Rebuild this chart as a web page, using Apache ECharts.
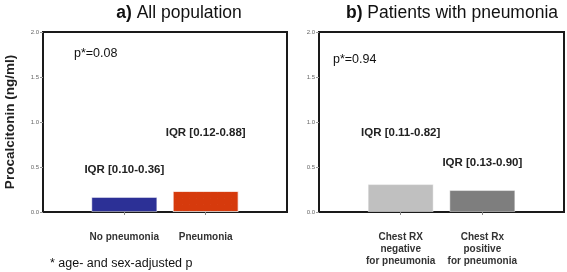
<!DOCTYPE html>
<html>
<head>
<meta charset="utf-8">
<script src="https://cdn.jsdelivr.net/npm/echarts@6/dist/echarts.min.js"></script>
<style>
  html, body { margin: 0; padding: 0; background: #fff; }
  #chart { width: 567px; height: 272px; }
</style>
</head>
<body>
<div id="chart"></div>
<script>
// panel a
const catsA = ['', 'No pneumonia', 'Pneumonia', '']
const valsA = [null, 0.167, 0.233, null]
const iqrA = ['', 'IQR [0.10-0.36]', 'IQR [0.12-0.88]', '']
// panel b
const catsB = ['', 'Chest RX\nnegative\nfor pneumonia', 'Chest Rx\npositive\nfor pneumonia', '']
const valsB = [null, 0.31, 0.244, null]
const iqrB = ['', 'IQR [0.11-0.82]', 'IQR [0.13-0.90]', '']
const yTicks = [0, 0.5, 1.0, 1.5, 2.0]

const colorsA = ['#2c3096', '#d63a0c']
const colorsB = ['#c0c0c0', '#7e7e7e']
const labelGapA = [21, 52]
const labelGapB = [45, 21]

const chart = echarts.init(document.getElementById('chart'))
const font = 'Liberation Sans, Arial, sans-serif'

function xAxis (idx, cats) {
  return {
    type: 'category',
    gridIndex: idx,
    data: cats,
    boundaryGap: false,
    axisLine: { show: false },
    axisTick: {
      show: true,
      length: 3,
      lineStyle: { color: '#888' },
      interval: (i) => i === 1 || i === 2
    },
    axisLabel: {
      interval: 0,
      margin: 19,
      fontFamily: font,
      fontSize: 10,
      fontWeight: 'bold',
      color: '#333',
      lineHeight: 12,
      verticalAlign: 'top'
    },
    splitLine: { show: false }
  }
}

function yAxis (idx, name) {
  return {
    type: 'value',
    gridIndex: idx,
    min: yTicks[0],
    max: yTicks[yTicks.length - 1],
    interval: 0.5,
    name: name,
    nameLocation: 'middle',
    nameGap: 26,
    nameTextStyle: { fontFamily: font, fontSize: 13.5, fontWeight: 'bold', color: '#222' },
    axisLine: { show: false },
    axisTick: { show: true, length: 3, lineStyle: { color: '#999' } },
    axisLabel: {
      margin: 4,
      fontFamily: font,
      fontSize: 6,
      color: '#666',
      formatter: (v) => v.toFixed(1)
    },
    splitLine: { show: false }
  }
}

function barData (vals, colors, iqr, gaps, dotted) {
  return vals.map((v, i) => {
    if (v === null) return null
    const style = {
      color: colors[i - 1],
      borderColor: 'rgba(255,255,255,0.45)',
      borderWidth: 1
    }
    if (dotted && dotted[i - 1]) {
      style.decal = {
        symbol: 'rect',
        symbolSize: 0.25,
        dashArrayX: [1, 6],
        dashArrayY: [1, 5],
        color: 'rgba(255,190,160,0.7)'
      }
    }
    return {
      value: v,
      itemStyle: style,
      label: {
        show: true,
        position: 'top',
        distance: gaps[i - 1],
        formatter: iqr[i],
        fontFamily: font,
        fontSize: 11.5,
        fontWeight: 'bold',
        color: '#222'
      }
    }
  })
}

const titleStyle = {
  fontFamily: font, fontSize: 17.5, fontWeight: 'normal', color: '#111',
  rich: { b: { fontFamily: font, fontSize: 17.5, fontWeight: 'bold', color: '#111' } }
}

const option = {
  animation: false,
  title: [
    { text: '{b|a)} All population', left: 174, top: -1, textAlign: 'center', textStyle: titleStyle },
    { text: '{b|b)} Patients with pneumonia', left: 447, top: -1, textAlign: 'center', textStyle: titleStyle }
  ],
  grid: [
    { left: 43, right: 280, top: 32, bottom: 60, show: true, borderColor: '#1a1a1a', borderWidth: 2, backgroundColor: '#fff' },
    { left: 319, right: 3, top: 32, bottom: 60, show: true, borderColor: '#1a1a1a', borderWidth: 2, backgroundColor: '#fff' }
  ],
  xAxis: [xAxis(0, catsA), xAxis(1, catsB)],
  yAxis: [yAxis(0, 'Procalcitonin (ng/ml)'), yAxis(1, '')],
  series: [
    {
      type: 'bar',
      xAxisIndex: 0,
      yAxisIndex: 0,
      barWidth: 66,
      data: barData(valsA, colorsA, iqrA, labelGapA, [false, true])
    },
    {
      type: 'bar',
      xAxisIndex: 1,
      yAxisIndex: 1,
      barWidth: 66,
      data: barData(valsB, colorsB, iqrB, labelGapB)
    }
  ],
  graphic: [
    { type: 'text', left: 74, top: 47, style: { text: 'p*=0.08', fontFamily: font, fontSize: 12.5, fill: '#111' } },
    { type: 'text', left: 333, top: 53, style: { text: 'p*=0.94', fontFamily: font, fontSize: 12.5, fill: '#111' } },
    { type: 'text', left: 50, top: 257, style: { text: '* age- and sex-adjusted p', fontFamily: font, fontSize: 12.5, fill: '#111' } }
  ]
}

chart.setOption(option)
window.addEventListener('resize', () => {
  chart.resize()
})
</script>
</body>
</html>
